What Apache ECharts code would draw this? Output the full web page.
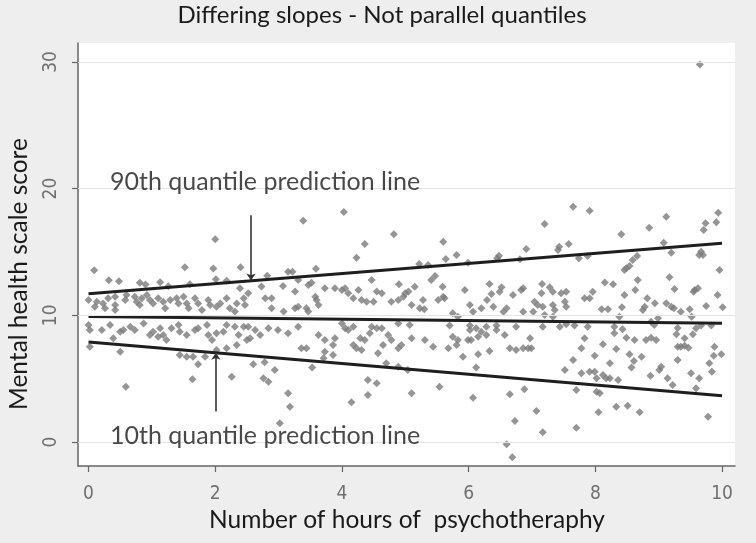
<!DOCTYPE html>
<html>
<head>
<meta charset="utf-8">
<script src="https://cdn.jsdelivr.net/npm/echarts@6/dist/echarts.min.js"></script>
<style>
  html, body { margin: 0; padding: 0; background: #eeeeee; }
  #chart { width: 756px; height: 543px; }
</style>
</head>
<body>
<div id="chart"></div>
<script>
const observations = [
  // x 0 - 2.5
  [2.0,16.0],[0.09,13.55],[1.52,13.8],[1.97,13.7],[2.4,13.8],[0.32,12.76],[0.48,12.68],[0.81,12.57],
  [0.9,12.44],[1.13,12.6],[1.26,12.3],[1.6,12.45],[2.01,12.84],[2.18,12.73],
  [0.0,11.21],[0.13,11.07],[0.1,10.68],[0.23,10.94],[0.26,10.55],[0.31,11.34],[0.42,11.47],[0.42,10.81],
  [0.42,10.42],[0.58,11.21],[0.6,11.6],[0.73,11.47],[0.76,11.07],[0.81,10.81],[0.84,11.34],[0.92,11.6],
  [0.97,11.21],[1.02,10.94],[1.1,11.34],[1.18,11.07],[1.21,10.55],[1.29,11.21],[1.39,11.34],[1.42,10.94],
  [1.5,11.47],[1.55,10.94],[1.58,10.55],[1.68,11.34],[1.73,10.94],[1.79,10.42],[1.89,11.21],[1.92,10.81],
  [2.02,10.68],[2.08,10.94],[2.18,11.34],[2.23,10.55],[2.31,10.29],[2.34,10.94],[2.39,12.13],[2.45,11.34],
  [2.47,10.81],
  [0.0,9.23],[0.02,8.84],[0.21,8.84],[0.34,9.23],[0.39,8.18],[0.5,8.71],[0.55,8.84],[0.66,9.1],
  [0.73,8.84],[0.87,9.36],[0.97,8.45],[1.02,8.71],[1.13,8.97],[1.1,8.31],[1.18,8.45],[1.23,8.05],
  [1.31,8.97],[1.44,8.71],[1.42,9.23],[1.55,8.45],[1.68,8.84],[1.73,8.97],[1.87,9.23],[1.89,8.45],
  [1.95,8.05],[2.02,8.58],[2.13,8.71],[2.18,9.23],[2.31,9.1],[2.37,8.45],[2.5,8.05],[2.45,9.1],
  [0.02,7.52],[0.5,7.13],[1.44,6.87],[1.55,6.73],[1.65,6.73],[1.73,6.13],[1.84,6.73],[2.02,7.26],
  [2.18,7.39],[2.34,7.66],[0.59,4.37],[1.64,4.95],[2.26,5.15],
  // x 2.5 - 5.1
  [3.39,17.47],[4.03,18.15],[4.82,16.39],[4.36,15.63],[4.23,14.55],[3.59,13.68],[3.15,13.44],[3.22,13.44],
  [2.82,13.13],[3.31,12.79],[4.47,12.79],[4.9,12.45],[3.52,12.57],[3.07,12.31],[3.47,12.39],
  [2.52,11.74],[2.79,11.34],[2.89,11.34],[2.89,10.55],[3.08,10.29],[3.26,11.87],[3.26,10.55],[3.31,10.68],
  [3.44,10.55],[3.47,10.29],[3.58,11.47],[3.6,11.21],[3.63,10.81],[3.73,12.13],[3.89,12.13],[4.0,12.0],
  [4.05,12.13],[4.1,11.74],[4.18,11.34],[4.26,12.0],[4.31,11.21],[4.39,11.07],[4.5,11.07],[4.55,11.87],
  [4.63,11.74],[4.78,11.07],[4.89,11.21],[4.97,11.47],[5.0,11.74],[5.05,11.87],[5.1,10.81],[2.73,12.27],
  [2.52,9.1],[2.63,8.84],[2.55,8.18],[2.71,8.45],[2.84,8.97],[2.99,8.84],[3.15,8.58],[3.31,9.1],
  [3.63,8.45],[3.73,8.05],[3.89,8.18],[4.0,9.36],[4.05,8.97],[4.1,8.84],[4.18,9.1],[4.29,8.18],
  [4.36,8.05],[4.44,8.58],[4.47,9.1],[4.55,8.97],[4.63,8.97],[4.73,8.45],[4.78,8.05],[4.89,9.36],
  [5.07,9.23],[5.1,8.18],
  [2.6,6.13],[2.78,6.29],[2.94,5.68],[2.76,5.03],[2.84,4.76],[3.15,3.84],[3.18,2.79],[3.02,1.48],
  [3.36,7.39],[3.44,7.39],[3.53,5.87],[3.86,7.66],[3.73,7.13],[3.86,6.87],[3.71,6.61],[4.18,7.66],
  [4.23,7.39],[4.31,7.26],[4.57,7.0],[4.65,7.66],[4.89,7.39],[4.94,7.66],[4.15,3.13],[4.41,4.89],
  [4.55,4.63],[4.41,3.71],[5.1,3.84],[5.04,5.68],[4.7,6.21],[4.89,5.94],
  // x 5.1 - 7.7
  [7.65,18.57],[7.2,17.21],[5.6,15.81],[5.81,14.76],[5.64,14.44],[6.91,15.23],[7.43,15.41],[7.58,15.63],
  [7.41,15.15],[6.48,14.7],[6.45,14.5],[6.81,14.42],[5.99,14.15],[5.22,14.05],[5.36,13.97],[5.47,13.1],
  [5.41,12.79],[5.15,12.26],[5.59,12.26],[5.94,12.0],[6.33,12.47],[6.52,12.21],[6.49,11.86],[6.36,11.68],
  [6.29,11.21],[6.39,10.68],[6.7,11.6],[6.83,12.0],[6.86,12.13],[7.16,12.47],[7.28,12.21],[7.33,11.86],
  [7.46,11.74],[7.54,11.86],[7.15,11.74],[5.52,11.21],[5.6,11.47],[5.62,11.34],[5.28,11.21],[7.04,11.07],
  [7.09,10.81],[7.17,10.68],[7.33,10.81],[7.36,10.42],[7.52,11.07],[7.54,10.68],[6.02,10.81],[6.2,10.55],
  [6.07,10.28],[6.6,10.55],[6.55,10.28],[5.23,10.55],[5.3,10.47],[5.75,10.16],[5.83,9.89],[6.86,10.28],
  [7.02,10.28],[7.2,10.02],[7.33,9.89],[5.7,9.2],[6.02,9.2],[6.28,9.1],[6.44,9.2],[6.75,9.1],
  [7.17,9.1],[7.44,9.1],[7.54,9.3],
  [5.31,8.05],[5.44,7.52],[5.75,8.31],[5.83,8.05],[5.99,8.05],[6.04,8.05],[6.02,8.84],[6.12,8.97],
  [6.2,8.7],[6.15,8.31],[6.28,8.44],[6.44,8.84],[5.68,7.39],[5.81,7.66],[5.91,6.73],[6.15,6.92],
  [6.33,7.18],[6.12,5.87],[6.57,8.44],[6.65,7.39],[6.75,7.26],[6.86,7.39],[6.94,7.39],[6.99,7.39],
  [6.97,8.18],[7.65,6.47],[7.52,5.68],[5.54,4.37],[6.07,3.5],[6.65,3.76],[6.88,4.16],[7.07,2.45],
  [6.73,1.66],[7.17,0.77],[6.6,-0.18],[6.69,-1.21],[7.7,1.13],
  // x 7.7 - 10
  [9.65,29.8],
  [7.91,18.26],[9.12,17.78],[8.85,16.91],[8.41,16.39],[9.94,18.1],[9.91,17.34],[9.74,17.26],[9.71,16.73],
  [9.08,15.73],[9.2,14.94],[9.67,15.02],[9.7,14.76],[9.64,14.76],[8.66,14.68],[8.59,14.36],[7.74,14.5],
  [7.88,14.68],[8.49,13.71],[8.54,13.89],[8.46,13.58],[9.96,13.58],[9.17,13.0],[8.67,12.79],[8.63,12.0],
  [8.15,12.58],[8.28,12.45],[9.25,12.08],[7.96,11.86],[7.91,11.34],[7.83,11.34],[8.46,11.6],[9.57,12.0],
  [9.62,12.13],[9.55,11.86],[9.93,11.6],[8.82,11.34],[8.94,10.95],[8.78,10.68],[8.75,10.42],[9.12,10.95],
  [9.2,10.68],[9.24,10.55],[8.1,10.47],[8.2,10.47],[8.42,10.63],[9.49,10.47],[9.35,10.28],[9.75,10.73],
  [10.01,10.63],[8.38,9.89],[9.52,9.89],[8.99,9.76],[8.88,9.49],[7.67,9.2],[7.88,9.1],[8.3,9.1],
  [8.43,8.9],[9.3,9.0],[9.67,9.2],[9.83,9.2],
  [7.83,8.18],[7.78,7.39],[7.99,6.81],[8.12,7.71],[8.23,6.21],[8.33,7.34],[8.3,8.58],[8.49,8.23],
  [8.62,8.05],[8.8,8.05],[8.88,8.23],[8.96,8.05],[8.93,9.23],[9.28,8.5],[9.41,8.18],[9.54,8.5],
  [9.59,8.97],[9.3,7.52],[9.35,7.52],[9.41,7.6],[9.47,7.44],[8.54,6.92],[8.61,6.39],[8.57,5.87],
  [8.73,6.73],[9.3,6.47],[9.88,7.52],[9.87,6.81],[9.99,6.92],[9.8,6.21],[9.84,5.55],[7.78,5.42],
  [7.91,5.55],[7.99,5.55],[8.02,5.03],[8.12,5.29],[8.17,5.03],[8.23,5.03],[8.36,4.89],[7.7,4.1],
  [8.02,3.97],[8.07,3.84],[8.33,2.79],[8.51,2.87],[8.7,2.34],[8.05,2.34],[8.87,5.23],[9.01,5.68],
  [9.04,5.94],[9.14,5.03],[9.22,4.5],[9.51,5.42],[9.64,5.03],[9.59,4.24],[9.78,2.0]
];

// fitted quantile lines, end points at 0 and 10 hours
const q90Line = [[0, 11.7], [10, 15.68]];
const q50Line = [[0, 9.9], [10, 9.38]];
const q10Line = [[0, 7.9], [10, 3.65]];

// arrows [x, from, to] and labels [x, y, text]
const arrows = [[2.565, 17.9, 12.75], [2.01, 2.4, 7.05]];
const notes = [[0.34, 20.5, "90th quantile prediction line"], [0.34, 0.5, "10th quantile prediction line"]];

const xTicks = [0, 2, 4, 6, 8, 10];
const yTicks = [0, 10, 20, 30];

const tickFont = "'Liberation Sans Narrow', 'DejaVu Sans Condensed', 'Liberation Sans', sans-serif";
const textFont = "Lato, 'Noto Sans', sans-serif";

const chart = echarts.init(document.getElementById("chart"));

const option = {
  backgroundColor: "#eeeeee",
  animation: false,
  grid: {
    left: 78,
    right: 21,
    top: 43,
    bottom: 77,
    show: true,
    backgroundColor: "#ffffff",
    borderWidth: 0
  },
  xAxis: {
    type: "value",
    min: -0.166,
    max: 10.205,
    axisLine: { onZero: false, lineStyle: { color: "#666", width: 1.5 } },
    axisTick: { customValues: xTicks, length: 6, lineStyle: { color: "#666", width: 1.2 } },
    axisLabel: {
      customValues: xTicks,
      margin: 19,
      color: "#707070",
      fontSize: 19,
      fontFamily: tickFont
    },
    splitLine: { show: false }
  },
  yAxis: {
    type: "value",
    min: -1.894,
    max: 31.49,
    axisLine: { show: true, onZero: false, lineStyle: { color: "#666", width: 1.5 } },
    axisTick: { show: true, customValues: yTicks, length: 6, lineStyle: { color: "#666", width: 1.2 } },
    axisLabel: {
      customValues: yTicks,
      rotate: 90,
      margin: 17,
      color: "#707070",
      fontSize: 19,
      fontFamily: tickFont
    },
    splitLine: { show: false }
  },
  graphic: [
    {
      type: "text",
      x: 382,
      y: 15,
      style: {
        text: "Differing slopes - Not parallel quantiles",
        font: "24px " + textFont,
        fill: "#1a1a1a",
        textAlign: "center",
        textVerticalAlign: "middle"
      }
    },
    {
      type: "text",
      x: 407,
      y: 520,
      style: {
        text: "Number of hours of  psychotheraphy",
        font: "24.5px " + textFont,
        fill: "#1a1a1a",
        textAlign: "center",
        textVerticalAlign: "middle"
      }
    },
    {
      type: "text",
      x: 19,
      y: 274,
      rotation: Math.PI / 2,
      style: {
        text: "Mental health scale score",
        font: "24.5px " + textFont,
        fill: "#1a1a1a",
        textAlign: "center",
        textVerticalAlign: "middle"
      }
    }
  ],
  series: [
    {
      // light grid lines at the y ticks
      type: "line",
      data: [],
      silent: true,
      markLine: {
        silent: true,
        symbol: "none",
        label: { show: false },
        lineStyle: { color: "#e4e4e4", width: 1, type: "solid" },
        data: yTicks.map(v => ({ yAxis: v }))
      }
    },
    {
      name: "scores",
      type: "scatter",
      symbol: "diamond",
      symbolSize: 8,
      itemStyle: { color: "#7a7a7a" },
      data: observations,
      z: 3
    },
    ...[q90Line, q50Line, q10Line].map(d => ({
      type: "line",
      data: d,
      symbol: "none",
      lineStyle: { color: "#1e1e1e", width: 3 },
      z: 4
    })),
    {
      type: "line",
      data: [],
      z: 5,
      markLine: {
        silent: true,
        symbol: ["none", "arrow"],
        symbolSize: 7,
        label: { show: false },
        lineStyle: { color: "#333", width: 1.6, type: "solid" },
        data: arrows.map(a => [{ coord: [a[0], a[1]] }, { coord: [a[0], a[2]] }])
      }
    },
    {
      type: "scatter",
      symbolSize: 0,
      silent: true,
      z: 6,
      data: notes.map(n => ({ value: [n[0], n[1]], name: n[2] })),
      label: {
        show: true,
        position: "right",
        distance: 0,
        formatter: p => p.name,
        fontSize: 25,
        fontFamily: textFont,
        color: "#1a1a1a"
      }
    }
  ]
};

chart.setOption(option);
</script>
</body>
</html>
